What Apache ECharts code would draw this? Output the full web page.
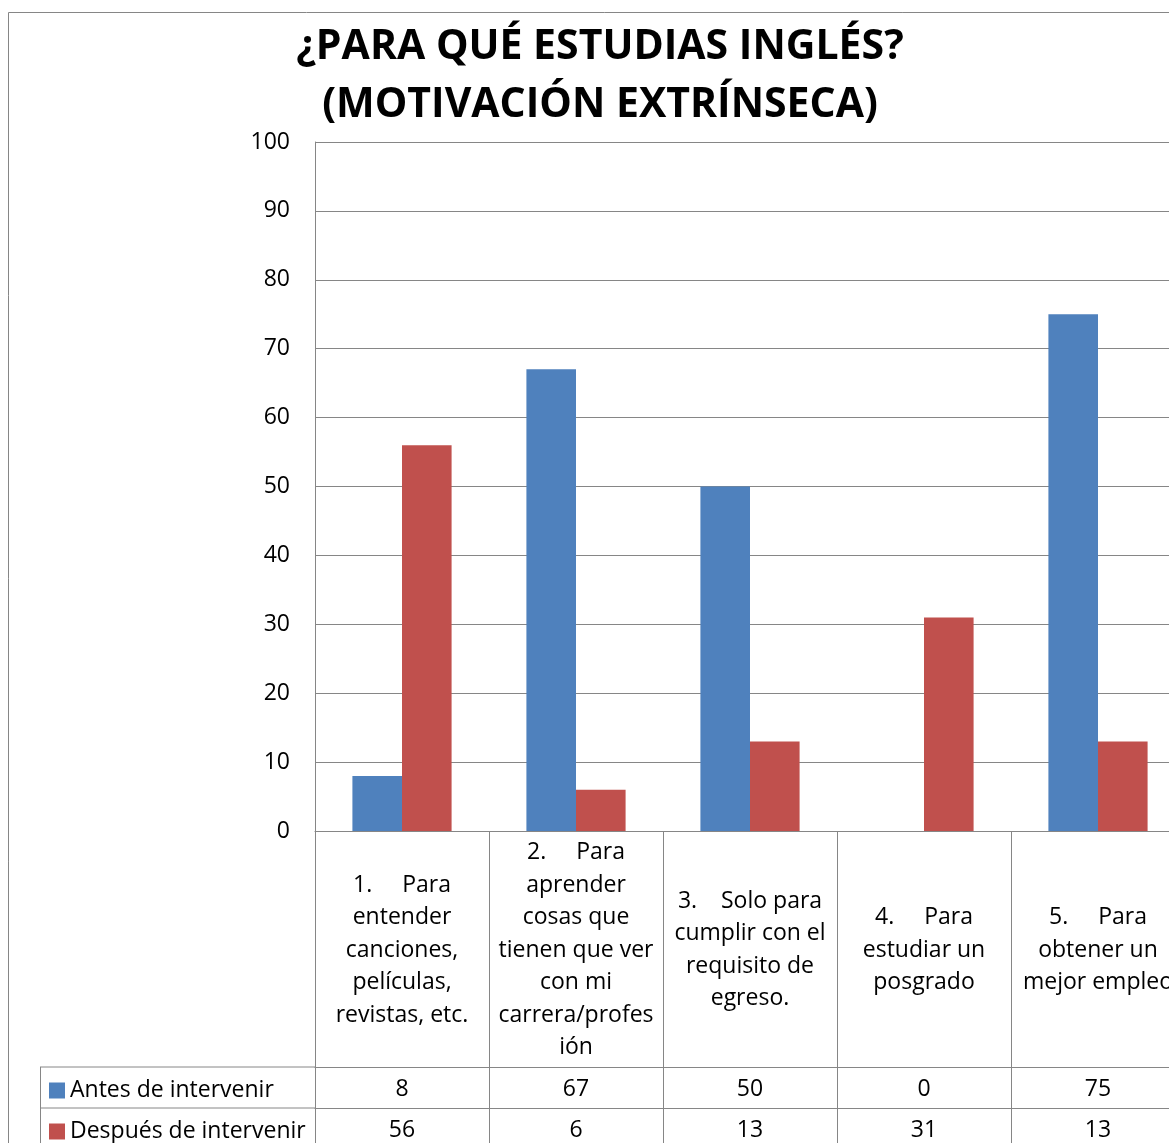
<!DOCTYPE html>
<html><head><meta charset="utf-8">
<script src="https://cdn.jsdelivr.net/npm/echarts@6/dist/echarts.min.js"></script>
<style>html,body{margin:0;padding:0;background:#fff;overflow:hidden}#c{width:1200px;height:1143px}</style>
</head><body><div id="c"></div>
<script>
const titleText = '¿PARA QUÉ ESTUDIAS INGLÉS?\n(MOTIVACIÓN EXTRÍNSECA)';
const categories = [
  '1.     Para\nentender\ncanciones,\npelículas,\nrevistas, etc.',
  '2.     Para\naprender\ncosas que\ntienen que ver\ncon mi\ncarrera/profes\nión',
  '3.    Solo para\ncumplir con el\nrequisito de\negreso.',
  '4.     Para\nestudiar un\nposgrado',
  '5.     Para\nobtener un\nmejor empleo'
];
const seriesNames = ['Antes de intervenir', 'Después de intervenir'];
const antes = [8, 67, 50, 0, 75];
const despues = [56, 6, 13, 31, 13];
const yMin = 0, yMax = 100, yInterval = 10;

const FONT = '"Open Sans", sans-serif';
const FS = 23;
const GRID = '#868686';
const COLORS = ['#4F81BD', '#C0504D'];

const chart = echarts.init(document.getElementById('c'), null, {renderer: 'canvas'});
const tableAxis = (offset, vals) => ({
  type: 'category', data: categories, position: 'bottom', offset: offset,
  axisLine: {show: true, lineStyle: {color: GRID, width: 1}},
  axisTick: {show: true, length: 41, interval: 0, lineStyle: {color: GRID, width: 1}},
  axisLabel: {interval: 0, margin: 22, verticalAlign: 'middle', fontFamily: FONT, fontSize: FS, color: '#000',
    formatter: (v, i) => String(vals[i])}
});
chart.setOption({
  animation: false,
  backgroundColor: '#fff',
  grid: {left: 315, top: 142, width: 870, height: 689, containLabel: false},
  legend: [
    {data: [seriesNames[0]], left: 49, top: 1079, icon: 'rect', itemWidth: 16, itemHeight: 16, padding: 0,
      textStyle: {fontFamily: FONT, fontSize: FS, color: '#000'}, selectedMode: false},
    {data: [seriesNames[1]], left: 49, top: 1120, icon: 'rect', itemWidth: 16, itemHeight: 16, padding: 0,
      textStyle: {fontFamily: FONT, fontSize: FS, color: '#000'}, selectedMode: false}
  ],
  xAxis: [
    {type: 'category', data: categories, position: 'bottom',
      axisLine: {show: true, lineStyle: {color: GRID, width: 1}},
      axisTick: {show: true, length: 236, interval: 0, lineStyle: {color: GRID, width: 1}},
      axisLabel: {interval: 0, margin: 119, verticalAlign: 'middle', align: 'center', lineHeight: 32.5,
        fontFamily: FONT, fontSize: FS, color: '#000'}},
    tableAxis(236, antes),
    tableAxis(277, despues)
  ],
  yAxis: {type: 'value', min: yMin, max: yMax, interval: yInterval,
    axisLine: {show: true, lineStyle: {color: GRID, width: 1}},
    axisTick: {show: false},
    splitLine: {show: true, lineStyle: {color: GRID, width: 1}},
    axisLabel: {margin: 25, fontFamily: FONT, fontSize: FS, color: '#000'}},
  series: [
    {name: seriesNames[0], type: 'bar', data: antes, itemStyle: {color: COLORS[0]}, barGap: '0%', barCategoryGap: '43%'},
    {name: seriesNames[1], type: 'bar', data: despues, itemStyle: {color: COLORS[1]}, barGap: '0%', barCategoryGap: '43%'}
  ],
  graphic: [
    {type: 'rect', silent: true, z: -1, shape: {x: 8.5, y: 12.5, width: 1400, height: 1400}, style: {fill: 'none', stroke: GRID, lineWidth: 1}},
    {type: 'line', silent: true, shape: {x1: 40, y1: 1067, x2: 315, y2: 1067}, style: {stroke: GRID, lineWidth: 1}},
    {type: 'line', silent: true, shape: {x1: 40, y1: 1108, x2: 315, y2: 1108}, style: {stroke: GRID, lineWidth: 1}},
    {type: 'line', silent: true, shape: {x1: 40.5, y1: 1067, x2: 40.5, y2: 1143}, style: {stroke: GRID, lineWidth: 1}},
    {type: 'text', silent: true, x: 600, y: 76, style: {text: titleText, textAlign: 'center', textVerticalAlign: 'middle',
      font: 'bold 41px ' + FONT, lineHeight: 58, fill: '#000'}}
  ]
});
</script></body></html>
